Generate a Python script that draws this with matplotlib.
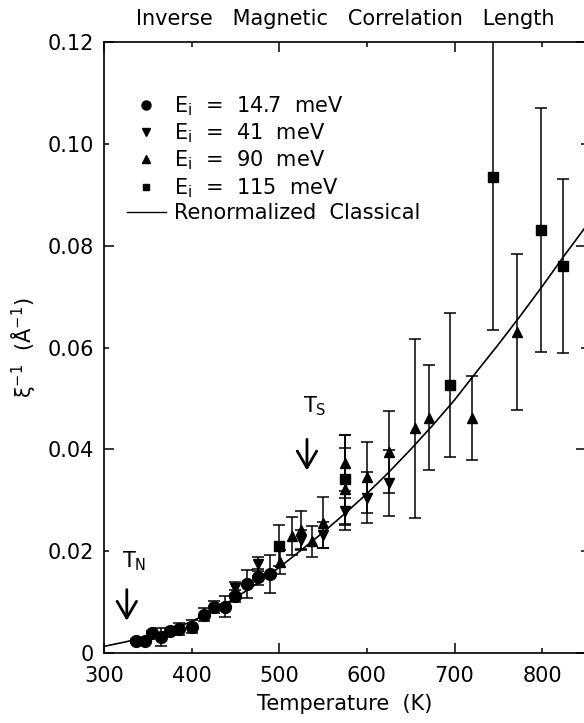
import matplotlib
matplotlib.use('Agg')
import matplotlib.pyplot as plt
from matplotlib.lines import Line2D
from matplotlib.ticker import FixedLocator, FuncFormatter

plt.rcParams['font.family'] = ['DejaVu Sans']
plt.rcParams['mathtext.default'] = 'regular'

# Ei = 14.7 meV (circles)
T_147 = [337, 347, 354.5, 365, 375.5, 385.5, 400, 414, 425, 438, 450, 463, 476, 489]
xi_147 = [0.0024, 0.0024, 0.0039, 0.0032, 0.0044, 0.0047, 0.0052, 0.0075, 0.0090,
          0.0091, 0.0112, 0.0136, 0.0149, 0.0155]
err_147 = [0.0004, 0.0004, 0.0005, 0.0018, 0.0006, 0.0012, 0.0012, 0.0013, 0.0012,
           0.0020, 0.0012, 0.0027, 0.0016, 0.0037]

# Ei = 41 meV (down triangles)
T_41 = [450, 476, 525, 550, 575, 600, 625]
xi_41 = [0.0127, 0.0175, 0.0222, 0.0232, 0.0278, 0.0305, 0.0334]
err_41 = [0.0012, 0.0014, 0.0020, 0.0026, 0.0027, 0.0050, 0.0065]

# Ei = 90 meV (up triangles)
T_90 = [501, 514, 525, 537, 550, 575, 575, 600, 625, 655, 671, 720, 771]
xi_90 = [0.0179, 0.0230, 0.0242, 0.0219, 0.0256, 0.0373, 0.0322, 0.0345, 0.0395,
         0.0441, 0.0462, 0.0462, 0.0631]
err_90 = [0.0023, 0.0037, 0.0037, 0.0030, 0.0050, 0.0055, 0.0080, 0.0070, 0.0080,
          0.0176, 0.0103, 0.0082, 0.0153]

# Ei = 115 meV (squares)
T_115 = [500, 575, 695, 744, 799, 824]
xi_115 = [0.0211, 0.0341, 0.0526, 0.0935, 0.0831, 0.0760]
err_115 = [0.0040, 0.0087, 0.0142, 0.0300, 0.0240, 0.0170]

# renormalized classical curve
T_rc = [300, 325, 350, 375, 400, 425, 450, 475, 500, 525, 550, 575, 600,
        625, 650, 675, 700, 725, 750, 775, 800, 825, 850]
xi_rc = [0.0013, 0.0022, 0.0032, 0.0045, 0.0062, 0.0083, 0.0108, 0.0137, 0.0168,
         0.0202, 0.0237, 0.0274, 0.0313, 0.0355, 0.0400, 0.0447, 0.0497, 0.0552,
         0.0606, 0.0662, 0.0720, 0.0780, 0.0838]

labels = ['E$_i$  =  14.7  meV', 'E$_i$  =  41  meV', 'E$_i$  =  90  meV',
          'E$_i$  =  115  meV', 'Renormalized  Classical']

fig = plt.figure(figsize=(5.84, 7.23), dpi=100)
ax = fig.add_axes([104 / 584, 70 / 723, 482 / 584, 611 / 723])

ax.plot(T_rc, xi_rc, color='black', lw=1.2)

ebkw = dict(ls='none', color='black', ecolor='black', elinewidth=1.1, capsize=4.5,
            capthick=1.1)
ax.errorbar(T_147, xi_147, yerr=err_147, marker='o', ms=8.5, **ebkw)
ax.errorbar(T_41, xi_41, yerr=err_41, marker='v', ms=7, **ebkw)
ax.errorbar(T_90, xi_90, yerr=err_90, marker='^', ms=7, **ebkw)
ax.errorbar(T_115, xi_115, yerr=err_115, marker='s', ms=6.5, **ebkw)

ax.set_xlim(300, 850)
ax.set_ylim(0, 0.12)

# IDL-ish ticks: long every other one, short in between, all labelled
ax.xaxis.set_major_locator(FixedLocator([300, 500, 700]))
ax.xaxis.set_minor_locator(FixedLocator([400, 600, 800]))
ax.yaxis.set_major_locator(FixedLocator([0, 0.04, 0.08, 0.12]))
ax.yaxis.set_minor_locator(FixedLocator([0.02, 0.06, 0.10]))
xfmt = FuncFormatter(lambda v, p: '%d' % v)
yfmt = FuncFormatter(lambda v, p: '0' if v == 0 else '%.2f' % v)
ax.xaxis.set_major_formatter(xfmt)
ax.xaxis.set_minor_formatter(xfmt)
ax.yaxis.set_major_formatter(yfmt)
ax.yaxis.set_minor_formatter(yfmt)
ax.tick_params(which='both', direction='in', top=True, right=True,
               labelsize=15, width=1.1)
ax.tick_params(which='major', length=7)
ax.tick_params(which='minor', length=3.5)
ax.tick_params(axis='x', which='both', pad=9)
ax.tick_params(axis='y', which='both', pad=7)
for s in ax.spines.values():
    s.set_linewidth(1.2)

ax.set_xlabel('Temperature  (K)', fontsize=15, labelpad=6)
ax.set_ylabel(r'$\xi^{-1}$  ($\AA^{-1}$)', fontsize=15, labelpad=7)
ax.set_title('Inverse   Magnetic   Correlation   Length', fontsize=15, pad=12)

# transition arrows
akw = dict(arrowstyle='->, head_length=0.6, head_width=0.35', lw=2,
           color='black', mutation_scale=20)
ax.annotate('', xy=(326, 0.0058), xytext=(326, 0.0130), arrowprops=akw)
ax.text(321, 0.0169, 'T$_N$', fontsize=15, ha='left', va='baseline')
ax.annotate('', xy=(531.6, 0.0353), xytext=(531.6, 0.0425), arrowprops=akw)
ax.text(527, 0.0473, 'T$_S$', fontsize=15, ha='left', va='baseline')

handles = [
    Line2D([], [], ls='none', marker='o', ms=6.5, color='black'),
    Line2D([], [], ls='none', marker='v', ms=5.5, color='black'),
    Line2D([], [], ls='none', marker='^', ms=5.5, color='black'),
    Line2D([], [], ls='none', marker='s', ms=5, color='black'),
    Line2D([], [], color='black', lw=1),
]
ax.legend(handles, labels, loc='upper left', bbox_to_anchor=(0.047, 0.915),
          frameon=False, fontsize=15, handlelength=1.9, handletextpad=0.35,
          labelspacing=0.18, borderpad=0, borderaxespad=0)

fig.savefig('out.png', dpi=100)
